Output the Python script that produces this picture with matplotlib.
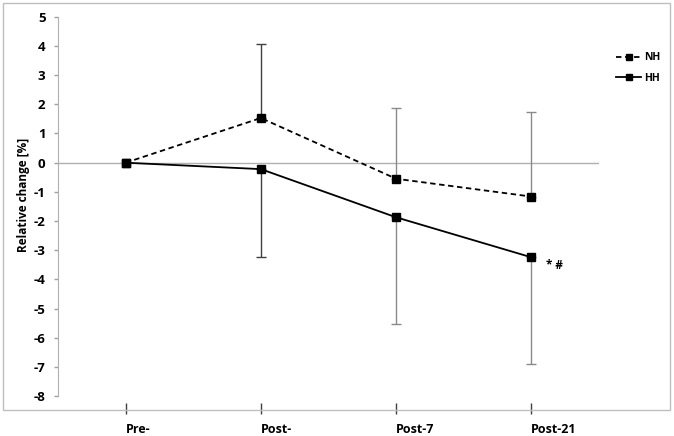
import matplotlib
matplotlib.use("Agg")
import matplotlib.pyplot as plt
from matplotlib.patches import Rectangle

# データ
time_points = ["Pre-", "Post-", "Post-7", "Post-21"]
nh_mean = [0.0, 1.53, -0.55, -1.16]
hh_mean = [0.0, -0.22, -1.87, -3.24]
nh_err_up = [0.0, 2.55, 2.42, 2.91]     # NH は上側だけ
hh_err_down = [0.0, 3.00, 3.65, 3.65]   # HH は下側だけ
y_ticks = list(range(-8, 6))

plt.rcParams['font.family'] = ['Open Sans', 'DejaVu Sans']
plt.rcParams['font.weight'] = 'bold'
plt.rcParams['axes.unicode_minus'] = False

W, H = 674, 436
fig = plt.figure(figsize=(W/100, H/100), dpi=100)

# チャート外枠 (Excel 風)
fig.patches.append(Rectangle((3/W, (H-410)/H), 667/W, 407/H, transform=fig.transFigure,
                             fill=False, edgecolor="#bfbfbf", linewidth=1.0))

ax = fig.add_axes([58/W, (H-396.3)/H, 541/W, 379.6/H])
x = list(range(len(time_points)))

# 軸まわり（set_position は目盛りをリセットするので先にやる）
for s in ["top", "right"]:
    ax.spines[s].set_visible(False)
ax.spines["left"].set_color("#b0b0b0")
ax.spines["bottom"].set_position(("outward", 5))
ax.spines["bottom"].set_visible(False)

# エラーバー（Post- は濃い色、それ以外はグレー）
bar_colors = ["#404040", "#404040", "#8a8a8a", "#8a8a8a"]
for i in x:
    if nh_err_up[i] > 0:
        ax.errorbar([i], [nh_mean[i]], yerr=[[0], [nh_err_up[i]]], fmt="none",
                    ecolor=bar_colors[i], elinewidth=1.0, capsize=3.5, capthick=1.0, zorder=2)
    if hh_err_down[i] > 0:
        ax.errorbar([i], [hh_mean[i]], yerr=[[hh_err_down[i]], [0]], fmt="none",
                    ecolor=bar_colors[i], elinewidth=1.0, capsize=3.5, capthick=1.0, zorder=2)

ax.axhline(0, color="#b0b0b0", linewidth=1.0, zorder=1)

ax.plot(x, nh_mean, color="black", linestyle=(0, (3, 2)), linewidth=1.3,
        marker="s", markersize=5.5, label="NH", zorder=3)
ax.plot(x, hh_mean, color="black", linestyle="-", linewidth=1.3,
        marker="s", markersize=5.5, label="HH", zorder=3)

ax.text(3 + 15/135.3, hh_mean[3] - 0.05, "* #", fontsize=8.5, fontweight="bold",
        ha="left", va="top")

ax.set_xlim(-0.5, 3.5)
ax.set_ylim(-8, 5)
ax.set_yticks(y_ticks)
ax.set_xticks(x)
ax.set_xticklabels(time_points)
ax.tick_params(axis="y", colors="#a0a0a0", labelcolor="black", length=3, width=1.0,
               pad=6, labelsize=9.5)
ax.tick_params(axis="x", colors="#404040", labelcolor="black", length=8, width=1.0,
               pad=6, direction="out", labelsize=9)
for lbl in ax.get_xticklabels():
    lbl.set_horizontalalignment("left")
    lbl.set_fontweight("bold")
for lbl in ax.get_yticklabels():
    lbl.set_fontweight("bold")

ax.set_ylabel("Relative change [%]", fontsize=8.5, fontweight="bold")
ax.yaxis.set_label_coords(-0.052, 0.53)

fig.legend(loc="center left", bbox_to_anchor=(616/W, 1 - 68/H), frameon=False,
           prop={"weight": "bold", "size": 7.5}, handlelength=2.4,
           handletextpad=0.3, labelspacing=0.9, borderpad=0, borderaxespad=0,
           markerscale=0.8)

fig.savefig("out.png", dpi=100)
